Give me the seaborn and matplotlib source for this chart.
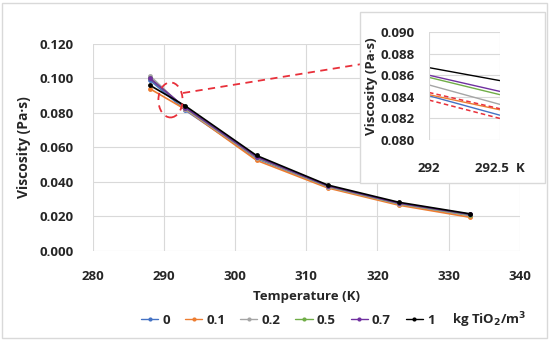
import numpy as np
import pandas as pd
import matplotlib.pyplot as plt
import seaborn as sns
from matplotlib.patches import Ellipse, Rectangle
from matplotlib.lines import Line2D

sns.set_theme(style="whitegrid")
plt.rcParams["font.family"] = ["Open Sans", "DejaVu Sans"]

# %%
# data
temperature = [288, 293, 303, 313, 323, 333]
conc_labels = ["0", "0.1", "0.2", "0.5", "0.7", "1"]
visc_0 = [0.0990, 0.0815, 0.0535, 0.0370, 0.0270, 0.0205]
visc_01 = [0.0940, 0.0820, 0.0525, 0.0365, 0.0265, 0.0195]
visc_02 = [0.1015, 0.0822, 0.0540, 0.0372, 0.0272, 0.0207]
visc_05 = [0.1000, 0.0828, 0.0543, 0.0375, 0.0275, 0.0210]
visc_07 = [0.1000, 0.0830, 0.0545, 0.0377, 0.0277, 0.0212]
visc_1 = [0.0960, 0.0840, 0.0553, 0.0382, 0.0282, 0.0215]

# zoomed window 292 - 292.5 K
zoom_t = [292.0, 292.5]
zoom_0 = [0.0841, 0.0823]
zoom_01 = [0.0842, 0.0828]
zoom_02 = [0.0851, 0.0833]
zoom_05 = [0.0858, 0.0842]
zoom_07 = [0.0860, 0.0845]
zoom_1 = [0.0867, 0.0855]
zoom_hi = [0.0844, 0.0829]
zoom_lo = [0.0837, 0.0820]

palette = ["#4472C4", "#ED7D31", "#A5A5A5", "#70AD47", "#7030A0", "#000000"]

df = pd.DataFrame(
    {
        "T": temperature * 6,
        "visc": visc_0 + visc_01 + visc_02 + visc_05 + visc_07 + visc_1,
        "conc": np.repeat(conc_labels, len(temperature)),
    }
)
dz = pd.DataFrame(
    {
        "T": zoom_t * 6,
        "visc": zoom_0 + zoom_01 + zoom_02 + zoom_05 + zoom_07 + zoom_1,
        "conc": np.repeat(conc_labels, len(zoom_t)),
    }
)

# %%
fig = plt.figure(figsize=(5.5, 3.4), dpi=100)
fig.patches.append(
    Rectangle((0.004, 0.006), 0.99, 0.985, transform=fig.transFigure,
              fill=False, edgecolor="#d9d9d9", lw=1)
)
ax = fig.add_axes([0.169, 0.262, 0.776, 0.609])
sns.lineplot(data=df, x="T", y="visc", hue="conc", palette=palette,
             marker="o", markersize=3.5, markeredgewidth=0, lw=1.2, ax=ax)
ax.set_xlim(280, 340)
ax.set_ylim(0, 0.12)
ax.set_xticks(np.arange(280, 341, 10))
ax.set_yticks(np.arange(0, 0.121, 0.02))
ax.set_yticklabels([f"{v:.3f}" for v in np.arange(0, 0.121, 0.02)])
ax.tick_params(labelsize=9.5, pad=8)
for lab in ax.get_xticklabels() + ax.get_yticklabels():
    lab.set_fontweight("bold")
ax.set_xlabel("Temperature (K)", fontsize=9.5, fontweight="bold", labelpad=5)
ax.set_ylabel("Viscosity (Pa·s)", fontsize=10, fontweight="bold", labelpad=6)
for s in ax.spines.values():
    s.set_visible(False)
ax.grid(color="#d9d9d9", lw=0.8)

handles, labels = ax.get_legend_handles_labels()
for h in handles:
    h.set_linewidth(1.0)
    h.set_markersize(3)
ax.legend(handles, labels, ncol=6, loc="center left",
          bbox_to_anchor=(0.085, -0.335), frameon=False,
          handlelength=1.3, handletextpad=0.3, columnspacing=1.15,
          prop={"weight": "bold", "size": 9.5})
fig.text(0.822, 0.045, "kg TiO$_\\mathbf{2}$/m$^\\mathbf{3}$", fontsize=9.5,
         fontweight="bold", ha="left", va="baseline")

# red circle and connector
ax.add_patch(Ellipse((290.9, 0.0875), 3.4, 0.0203, fill=False,
                     edgecolor="#e8303a", ls=(0, (4, 3)), lw=1.3, zorder=5))
fig.add_artist(Line2D([183 / 550, 362 / 550], [1 - 93 / 340, 1 - 64 / 340],
                      color="#e8303a", ls=(0, (4, 3)), lw=1.3))

# inset
fig.patches.append(
    Rectangle((360 / 550, 1 - 183 / 340), 185 / 550, 171 / 340,
              transform=fig.transFigure, facecolor="white",
              edgecolor="#d9d9d9", lw=1, zorder=2)
)
axi = fig.add_axes([0.78, 0.588, 0.129, 0.318], zorder=3)
sns.lineplot(data=dz, x="T", y="visc", hue="conc", palette=palette,
             lw=1.0, legend=False, ax=axi)
axi.plot(zoom_t, zoom_hi, color="#e8303a", ls=(0, (3, 2)), lw=1.1)
axi.plot(zoom_t, zoom_lo, color="#e8303a", ls=(0, (3, 2)), lw=1.1)
axi.set_xlim(292, 292.5)
axi.set_ylim(0.080, 0.090)
axi.set_xticks([292, 292.5])
axi.set_xticklabels(["292", "292.5  K"])
axi.set_yticks(np.arange(0.080, 0.0901, 0.002))
axi.set_yticklabels([f"{v:.3f}" for v in np.arange(0.080, 0.0901, 0.002)])
axi.tick_params(labelsize=9.5, pad=4)
axi.tick_params(axis="x", pad=10)
for lab in axi.get_xticklabels() + axi.get_yticklabels():
    lab.set_fontweight("bold")
axi.set_xlabel("")
axi.set_ylabel("Viscosity (Pa·s)", fontsize=9.5, fontweight="bold", labelpad=2)
axi.set_facecolor("white")
axi.grid(color="#d9d9d9", lw=0.8)
axi.grid(axis="x", visible=False)
for s in axi.spines.values():
    s.set_visible(False)
axi.axvline(292, color="#d9d9d9", lw=0.8)
axi.axvline(292.5, color="#d9d9d9", lw=0.8)

fig.savefig("out.png", dpi=100)
